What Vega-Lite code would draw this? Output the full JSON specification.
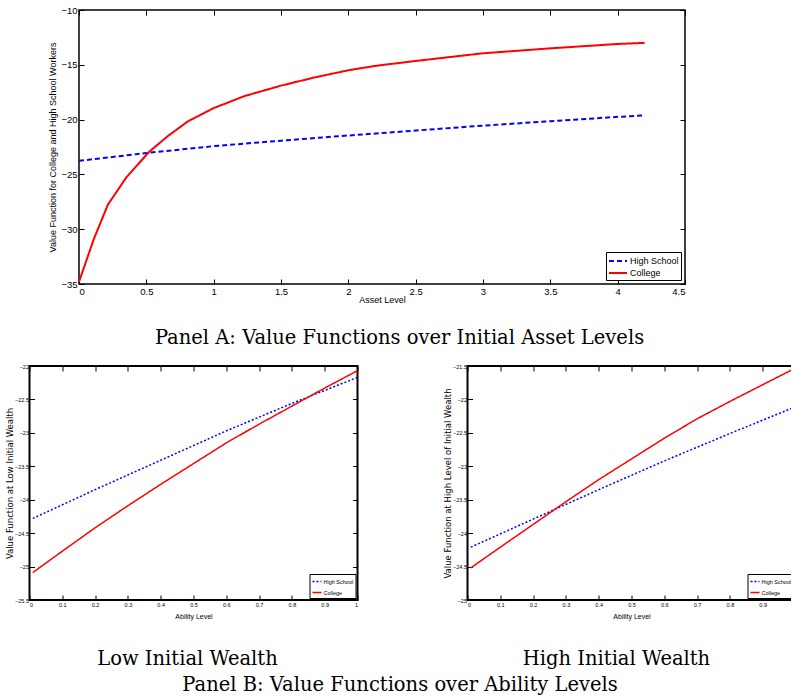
{
  "$schema": "https://vega.github.io/schema/vega-lite/v6.json",
  "background": "white",
  "padding": {"left": 4.5, "top": 4, "right": 0, "bottom": 0},
  "config": {
    "view": {"stroke": "black", "strokeWidth": 1.5},
    "axis": {"domain": false, "grid": false, "tickColor": "black", "tickWidth": 1, "labelColor": "black", "titleColor": "black", "labelFont": "Liberation Sans", "titleFont": "Liberation Sans", "titleFontWeight": "normal"},
    "title": {"font": "DejaVu Serif", "fontWeight": "normal", "color": "black", "fontSize": 19.5},
    "legend": {"title": null, "strokeColor": "black", "fillColor": "white", "labelFont": "Liberation Sans", "labelColor": "black", "symbolType": "stroke"}
  },
  "resolve": {"scale": {"color": "independent", "strokeDash": "independent"}, "legend": {"color": "independent", "strokeDash": "independent"}},
  "datasets": {
    "topHS": [
      {"asset": 0, "value": -23.76, "type": "High School"},
      {"asset": 0.5, "value": -23.05, "type": "High School"},
      {"asset": 1.0, "value": -22.42, "type": "High School"},
      {"asset": 1.5, "value": -21.92, "type": "High School"},
      {"asset": 2.0, "value": -21.45, "type": "High School"},
      {"asset": 2.5, "value": -21.0, "type": "High School"},
      {"asset": 3.0, "value": -20.55, "type": "High School"},
      {"asset": 3.5, "value": -20.15, "type": "High School"},
      {"asset": 4.0, "value": -19.75, "type": "High School"},
      {"asset": 4.2, "value": -19.62, "type": "High School"}
    ],
    "topCol": [
      {"asset": 0, "value": -34.8, "type": "College"},
      {"asset": 0.11, "value": -30.9, "type": "College"},
      {"asset": 0.215, "value": -27.75, "type": "College"},
      {"asset": 0.35, "value": -25.3, "type": "College"},
      {"asset": 0.52, "value": -22.95, "type": "College"},
      {"asset": 0.66, "value": -21.5, "type": "College"},
      {"asset": 0.81, "value": -20.15, "type": "College"},
      {"asset": 1.0, "value": -18.95, "type": "College"},
      {"asset": 1.23, "value": -17.85, "type": "College"},
      {"asset": 1.5, "value": -16.9, "type": "College"},
      {"asset": 1.75, "value": -16.15, "type": "College"},
      {"asset": 2.0, "value": -15.5, "type": "College"},
      {"asset": 2.2, "value": -15.1, "type": "College"},
      {"asset": 2.5, "value": -14.65, "type": "College"},
      {"asset": 3.0, "value": -13.95, "type": "College"},
      {"asset": 3.5, "value": -13.5, "type": "College"},
      {"asset": 4.0, "value": -13.1, "type": "College"},
      {"asset": 4.2, "value": -13.0, "type": "College"}
    ],
    "lowHS": [
      {"ability": 0.01, "value": -24.28, "type": "High School"},
      {"ability": 0.2, "value": -23.85, "type": "High School"},
      {"ability": 0.4, "value": -23.41, "type": "High School"},
      {"ability": 0.6, "value": -22.97, "type": "High School"},
      {"ability": 0.8, "value": -22.56, "type": "High School"},
      {"ability": 1.0, "value": -22.17, "type": "High School"}
    ],
    "lowCol": [
      {"ability": 0.01, "value": -25.09, "type": "College"},
      {"ability": 0.1, "value": -24.77, "type": "College"},
      {"ability": 0.2, "value": -24.42, "type": "College"},
      {"ability": 0.3, "value": -24.09, "type": "College"},
      {"ability": 0.4, "value": -23.77, "type": "College"},
      {"ability": 0.5, "value": -23.46, "type": "College"},
      {"ability": 0.6, "value": -23.15, "type": "College"},
      {"ability": 0.7, "value": -22.87, "type": "College"},
      {"ability": 0.8, "value": -22.6, "type": "College"},
      {"ability": 0.9, "value": -22.33, "type": "College"},
      {"ability": 1.0, "value": -22.07, "type": "College"}
    ],
    "highHS": [
      {"ability": 0.01, "value": -24.21, "type": "High School"},
      {"ability": 0.2, "value": -23.79, "type": "High School"},
      {"ability": 0.4, "value": -23.35, "type": "High School"},
      {"ability": 0.6, "value": -22.92, "type": "High School"},
      {"ability": 0.8, "value": -22.51, "type": "High School"},
      {"ability": 1.0, "value": -22.11, "type": "High School"}
    ],
    "highCol": [
      {"ability": 0.01, "value": -24.52, "type": "College"},
      {"ability": 0.1, "value": -24.21, "type": "College"},
      {"ability": 0.2, "value": -23.87, "type": "College"},
      {"ability": 0.3, "value": -23.53, "type": "College"},
      {"ability": 0.4, "value": -23.2, "type": "College"},
      {"ability": 0.5, "value": -22.89, "type": "College"},
      {"ability": 0.6, "value": -22.58, "type": "College"},
      {"ability": 0.7, "value": -22.29, "type": "College"},
      {"ability": 0.8, "value": -22.03, "type": "College"},
      {"ability": 0.9, "value": -21.78, "type": "College"},
      {"ability": 1.0, "value": -21.53, "type": "College"}
    ]
  },
  "spacing": 15,
  "vconcat": [
    {
      "spacing": 17.5,
      "resolve": {"scale": {"color": "independent", "strokeDash": "independent"}, "legend": {"color": "independent", "strokeDash": "independent"}},
      "hconcat": [
        {"width": 1, "height": 1, "view": {"stroke": null}, "data": {"values": []}, "mark": "rule", "encoding": {}},
        {
          "width": 606,
          "height": 274,
          "title": {"text": "Panel A: Value Functions over Initial Asset Levels", "orient": "bottom", "dx": 17.5, "offset": 24},
          "resolve": {"axis": {"x": "independent", "y": "independent"}},
          "layer": [
            {
              "data": {"name": "topHS"},
              "mark": {"type": "line", "strokeWidth": 2},
              "encoding": {
                "x": {"field": "asset", "type": "quantitative", "scale": {"domain": [0, 4.5], "nice": false, "zero": false},
                  "axis": {"orient": "bottom", "values": [0, 0.5, 1, 1.5, 2, 2.5, 3, 3.5, 4, 4.5], "format": "~g", "title": "Asset Level", "tickSize": -5, "labelPadding": 7, "labelFontSize": 9.5, "titleFontSize": 9, "titlePadding": 0}},
                "y": {"field": "value", "type": "quantitative", "scale": {"domain": [-35, -10], "nice": false, "zero": false},
                  "axis": {"orient": "left", "values": [-35, -30, -25, -20, -15, -10], "format": "~g", "title": "Value Function for College and High School Workers", "tickSize": -5, "labelPadding": 7, "labelFontSize": 9.5, "titleFontSize": 9, "titlePadding": 3}},
                "color": {"field": "type", "type": "nominal", "scale": {"domain": ["High School", "College"], "range": ["#0000ff", "#ff0000"]},
                  "legend": {"orient": "bottom-right", "offset": 4, "padding": 2, "rowPadding": 0, "labelFontSize": 9, "symbolType": "M-1,0H2", "symbolSize": 144, "symbolStrokeWidth": 2, "labelOffset": 8}},
                "strokeDash": {"field": "type", "type": "nominal", "scale": {"domain": ["High School", "College"], "range": [[5, 3], [1, 0]]},
                  "legend": {"orient": "bottom-right", "offset": 4, "padding": 2, "rowPadding": 0, "labelFontSize": 9, "symbolType": "M-1,0H2", "symbolSize": 144, "symbolStrokeWidth": 2, "labelOffset": 8}}
              }
            },
            {
              "data": {"name": "topCol"},
              "mark": {"type": "line", "strokeWidth": 2},
              "encoding": {
                "x": {"field": "asset", "type": "quantitative", "axis": {"orient": "top", "values": [0, 0.5, 1, 1.5, 2, 2.5, 3, 3.5, 4, 4.5], "labels": false, "title": null, "tickSize": -5}},
                "y": {"field": "value", "type": "quantitative", "axis": {"orient": "right", "values": [-35, -30, -25, -20, -15, -10], "labels": false, "title": null, "tickSize": -5}},
                "color": {"field": "type", "type": "nominal"},
                "strokeDash": {"field": "type", "type": "nominal"}
              }
            }
          ]
        }
      ]
    },
    {
      "spacing": 81,
      "resolve": {"scale": {"color": "independent", "strokeDash": "independent"}, "legend": {"color": "independent", "strokeDash": "independent"}},
      "title": {"text": "Panel B: Value Functions over Ability Levels", "orient": "bottom", "anchor": "middle", "dx": -2, "offset": 7},
      "hconcat": [
        {
          "width": 328,
          "height": 234,
          "view": {"strokeWidth": 2},
          "title": {"text": "Low Initial Wealth", "orient": "bottom", "dx": -6, "offset": 30},
          "resolve": {"axis": {"x": "independent", "y": "independent"}},
          "layer": [
            {
              "data": {"name": "lowHS"},
              "mark": {"type": "line", "strokeWidth": 1.5},
              "encoding": {
                "x": {"field": "ability", "type": "quantitative", "scale": {"domain": [0, 1], "nice": false},
                  "axis": {"orient": "bottom", "values": [0, 0.1, 0.2, 0.3, 0.4, 0.5, 0.6, 0.7, 0.8, 0.9, 1], "format": "~g", "title": "Ability Level", "tickSize": -5, "labelPadding": 7, "labelFontSize": 5.5, "titleFontSize": 7, "titlePadding": 5}},
                "y": {"field": "value", "type": "quantitative", "scale": {"domain": [-25.5, -22], "nice": false, "zero": false},
                  "axis": {"orient": "left", "values": [-25.5, -25, -24.5, -24, -23.5, -23, -22.5, -22], "format": "~g", "title": "Value Function at Low Initial Wealth", "tickSize": -5, "labelPadding": 6, "labelFontSize": 5.5, "titleFontSize": 8.5, "titleFont": "DejaVu Sans", "titlePadding": 0}},
                "color": {"field": "type", "type": "nominal", "scale": {"domain": ["High School", "College"], "range": ["#0000ff", "#ff0000"]},
                  "legend": {"orient": "bottom-right", "offset": 2, "padding": 2, "rowPadding": 2, "labelFontSize": 5.5, "symbolSize": 81, "symbolStrokeWidth": 1.5, "labelOffset": 1}},
                "strokeDash": {"field": "type", "type": "nominal", "scale": {"domain": ["High School", "College"], "range": [[2, 2], [1, 0]]},
                  "legend": {"orient": "bottom-right", "offset": 2, "padding": 2, "rowPadding": 2, "labelFontSize": 5.5, "symbolSize": 81, "symbolStrokeWidth": 1.5, "labelOffset": 1}}
              }
            },
            {
              "data": {"name": "lowCol"},
              "mark": {"type": "line", "strokeWidth": 1.5},
              "encoding": {
                "x": {"field": "ability", "type": "quantitative", "axis": {"orient": "top", "values": [0, 0.1, 0.2, 0.3, 0.4, 0.5, 0.6, 0.7, 0.8, 0.9, 1], "labels": false, "title": null, "tickSize": -5}},
                "y": {"field": "value", "type": "quantitative", "axis": {"orient": "right", "values": [-25.5, -25, -24.5, -24, -23.5, -23, -22.5, -22], "labels": false, "title": null, "tickSize": -5}},
                "color": {"field": "type", "type": "nominal"},
                "strokeDash": {"field": "type", "type": "nominal"}
              }
            }
          ]
        },
        {
          "width": 328,
          "height": 234,
          "view": {"strokeWidth": 2},
          "title": {"text": "High Initial Wealth", "orient": "bottom", "dx": -15, "offset": 30},
          "resolve": {"axis": {"x": "independent", "y": "independent"}},
          "layer": [
            {
              "data": {"name": "highHS"},
              "mark": {"type": "line", "strokeWidth": 1.5},
              "encoding": {
                "x": {"field": "ability", "type": "quantitative", "scale": {"domain": [0, 1], "nice": false},
                  "axis": {"orient": "bottom", "values": [0, 0.1, 0.2, 0.3, 0.4, 0.5, 0.6, 0.7, 0.8, 0.9, 1], "format": "~g", "title": "Ability Level", "tickSize": -5, "labelPadding": 7, "labelFontSize": 5.5, "titleFontSize": 7, "titlePadding": 5}},
                "y": {"field": "value", "type": "quantitative", "scale": {"domain": [-25, -21.5], "nice": false, "zero": false},
                  "axis": {"orient": "left", "values": [-25, -24.5, -24, -23.5, -23, -22.5, -22, -21.5], "format": "~g", "title": "Value Function at High Level of Initial Wealth", "tickSize": -5, "labelPadding": 6, "labelFontSize": 5.5, "titleFontSize": 8.5, "titleFont": "DejaVu Sans", "titlePadding": 0}},
                "color": {"field": "type", "type": "nominal", "scale": {"domain": ["High School", "College"], "range": ["#0000ff", "#ff0000"]},
                  "legend": {"orient": "bottom-right", "offset": 2, "padding": 2, "rowPadding": 2, "labelFontSize": 5.5, "symbolSize": 81, "symbolStrokeWidth": 1.5, "labelOffset": 1}},
                "strokeDash": {"field": "type", "type": "nominal", "scale": {"domain": ["High School", "College"], "range": [[2, 2], [1, 0]]},
                  "legend": {"orient": "bottom-right", "offset": 2, "padding": 2, "rowPadding": 2, "labelFontSize": 5.5, "symbolSize": 81, "symbolStrokeWidth": 1.5, "labelOffset": 1}}
              }
            },
            {
              "data": {"name": "highCol"},
              "mark": {"type": "line", "strokeWidth": 1.5},
              "encoding": {
                "x": {"field": "ability", "type": "quantitative", "axis": {"orient": "top", "values": [0, 0.1, 0.2, 0.3, 0.4, 0.5, 0.6, 0.7, 0.8, 0.9, 1], "labels": false, "title": null, "tickSize": -5}},
                "y": {"field": "value", "type": "quantitative", "axis": {"orient": "right", "values": [-25, -24.5, -24, -23.5, -23, -22.5, -22, -21.5], "labels": false, "title": null, "tickSize": -5}},
                "color": {"field": "type", "type": "nominal"},
                "strokeDash": {"field": "type", "type": "nominal"}
              }
            }
          ]
        }
      ]
    }
  ]
}
